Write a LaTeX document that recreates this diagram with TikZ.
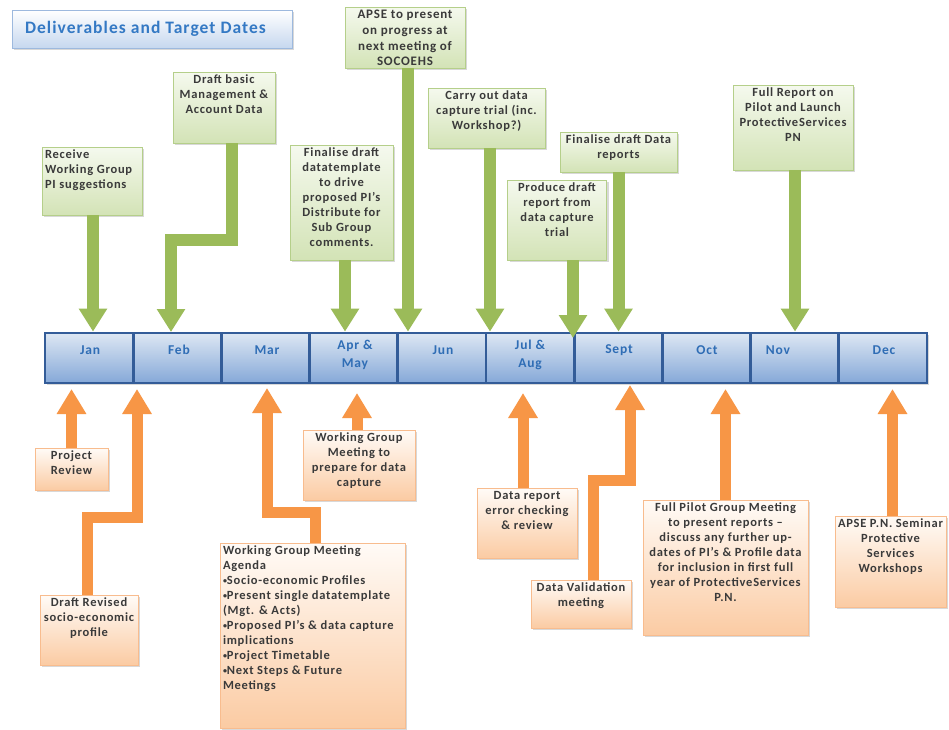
\documentclass[tikz,border=0pt]{standalone}
\usepackage{fontspec}
\setmainfont{Carlito}[LetterSpace=6]
\usetikzlibrary{arrows.meta,shadows}
\definecolor{gArrow}{HTML}{9BBB59}
\definecolor{gLine}{HTML}{B5CF8A}
\definecolor{gTop}{HTML}{F5F9EE}
\definecolor{gFill}{HTML}{D3E3B6}
\definecolor{oArrow}{HTML}{F79646}
\definecolor{oLine}{HTML}{F8BC8E}
\definecolor{oTop}{HTML}{FFFBF7}
\definecolor{oFill}{HTML}{FBCBA3}
\definecolor{bLine}{HTML}{335C98}
\definecolor{bTop}{HTML}{DDE7F3}
\definecolor{bBot}{HTML}{85A8D8}
\definecolor{bText}{HTML}{2F6DB5}
\definecolor{tLine}{HTML}{9DB9DE}
\definecolor{tBot}{HTML}{C6D8EF}
\definecolor{tText}{HTML}{3479C4}
\definecolor{txt}{HTML}{3A3A3A}
\newcommand{\bxt}[4]{\parbox[c][#2pt][t]{#1pt}{#3#4}}
\newcommand{\smbul}{\raisebox{1pt}{\fontsize{8}{8}\selectfont•}}
\tikzset{
  boxbase/.style={line width=1pt,inner sep=3pt,outer sep=0pt,
    font=\bfseries\fontsize{12.5}{15}\selectfont,text=txt,
    drop shadow={shadow xshift=2pt,shadow yshift=-2pt,opacity=0.3}},
  gbox/.style={boxbase,draw=gLine,top color=gTop,bottom color=gFill},
  obox/.style={boxbase,draw=oLine,top color=oTop,bottom color=oFill},
  garrow/.style={draw=gArrow,line width=12pt,line join=miter,
    -{Triangle[width=27pt,length=23pt]}},
  oarrow/.style={draw=oArrow,line width=11pt,line join=miter,
    -{Triangle[width=28pt,length=25pt]}},
  month/.style={draw=bLine,line width=2.8pt,top color=bTop,bottom color=bBot,
    minimum width=88.2pt,minimum height=50pt,inner sep=0pt,
    drop shadow={shadow xshift=1.5pt,shadow yshift=-2pt,opacity=0.3}},
  mlabel/.style={font=\bfseries\fontsize{13.5}{18}\selectfont,text=bText,align=center,inner sep=0pt},
  titlebox/.style={draw=tLine,line width=1pt,top color=white,bottom color=tBot,
    inner xsep=13pt,inner ysep=0pt,outer sep=0pt,
    font=\bfseries\fontsize{17.5}{19}\selectfont,text=tText,
    drop shadow={shadow xshift=2pt,shadow yshift=-2pt,opacity=0.3}}
}
\begin{document}
\begin{tikzpicture}[x=1pt,y=-1pt]
\useasboundingbox (0,0) rectangle (949,729);
\fill[white] (0,0) rectangle (949,729);

% title
\node[titlebox] (title) at (152,29) {\parbox[c][38pt][c]{254pt}{Deliverables and Target Dates}};

% timeline
\node[month] (m1)  at (89.1,358) {};
\node[month] (m2)  at (177.3,358) {};
\node[month] (m3)  at (265.5,358) {};
\node[month] (m4)  at (353.7,358) {};
\node[month] (m5)  at (441.9,358) {};
\node[month] (m6)  at (530.1,358) {};
\node[month] (m7)  at (618.3,358) {};
\node[month] (m8)  at (706.5,358) {};
\node[month] (m9)  at (794.7,358) {};
\node[month] (m10) at (882.9,358) {};
\node[mlabel] (l1)  at (90,350) {Jan};
\node[mlabel] (l2)  at (179,350) {Feb};
\node[mlabel] (l3)  at (267,350) {Mar};
\node[mlabel] (l4)  at (355,355) {Apr \&\\May};
\node[mlabel] (l5)  at (443,350) {Jun};
\node[mlabel] (l6)  at (530,355) {Jul \&\\Aug};
\node[mlabel] (l7)  at (619,350) {Sept};
\node[mlabel] (l8)  at (707,350) {Oct};
\node[mlabel] (l9)  at (778,350) {Nov};
\node[mlabel] (l10) at (884,350) {Dec};

% green boxes (above)
\node[gbox] (g1) at (92,181) {\bxt{94}{62}{\raggedright}{Receive\\Working Group\\PI suggestions}};
\node[gbox] (g2) at (224,107.5) {\bxt{96}{65}{\centering}{Draft basic\\Management \&\\Account Data}};
\node[gbox] (g3) at (341.5,202.5) {\bxt{97}{109}{\centering}{Finalise draft\\datatemplate\\to drive\\proposed PI’s\\Distribute for\\Sub Group\\comments.}};
\node[gbox,font=\bfseries\fontsize{13}{15.8}\selectfont] (g4) at (405,37.5) {\bxt{114}{55}{\centering}{APSE to present\\on progress at\\next meeting of\\SOCOEHS}};
\node[gbox] (g5) at (486.5,118) {\bxt{111}{54}{\centering}{Carry out data\\capture trial (inc.\\Workshop?)}};
\node[gbox] (g6) at (557,220) {\bxt{93}{74}{\centering}{Produce draft\\report from\\data capture\\trial}};
\node[gbox] (g7) at (618.5,152) {\bxt{111}{34}{\centering}{Finalise draft Data\\reports}};
\node[gbox] (g8) at (793,127.5) {\bxt{114}{79}{\centering}{Full Report on\\Pilot and Launch\\ProtectiveServices\\PN}};

% orange boxes (below)
\node[obox] (o1) at (71.5,469) {\bxt{67}{36}{\centering}{Project\\Review}};
\node[obox] (o2) at (89,630) {\bxt{92}{64}{\centering}{Draft Revised\\socio-economic\\profile}};
\node[obox] (o3) at (312.5,635.5) {\bxt{179}{179}{\raggedright}{Working Group Meeting\\Agenda\\\smbul Socio-economic Profiles\\\smbul Present single datatemplate\\(Mgt. \& Acts)\\\smbul Proposed PI’s \& data capture\\implications\\\smbul Project Timetable\\\smbul Next Steps \& Future\\Meetings}};
\node[obox] (o4) at (359,465) {\bxt{106}{64}{\centering}{Working Group\\Meeting to\\prepare for data\\capture}};
\node[obox] (o5) at (527,523) {\bxt{94}{64}{\centering}{Data report\\error checking\\\& review}};
\node[obox] (o6) at (581,604) {\bxt{94}{42}{\centering}{Data Validation\\meeting}};
\node[obox] (o7) at (725.5,567.5) {\bxt{159}{129}{\centering}{Full Pilot Group Meeting\\to present reports –\\discuss any further up-\\dates of PI’s \& Profile data\\for inclusion in first full\\year of ProtectiveServices\\P.N.}};
\node[obox] (o8) at (890.5,561.5) {\bxt{105}{85}{\centering}{APSE P.N. Seminar\\Protective\\Services\\Workshops}};

% tip coordinates
\coordinate (tipA) at (0,389);
\coordinate (tipB) at (0,393);
\coordinate (g2t) at (171,332);
\coordinate (g6t) at (573,338);
\coordinate (o2t) at (137,389);
\coordinate (o3t) at (267,388);
\coordinate (o6t) at (630,385);

% green arrows
\draw[garrow] ([xshift=1pt]g1.south) -- ([xshift=1pt]g1.south |- m1.north);
\draw[garrow] ([xshift=8pt]g2.south) -- ++(0,97) -| (g2t);
\draw[garrow] ([xshift=3.5pt]g3.south) -- ([xshift=3.5pt]g3.south |- m4.north);
\draw[garrow] ([xshift=3pt]g4.south) -- ([xshift=3pt]g4.south |- m5.north);
\draw[garrow] ([xshift=3.5pt]g5.south) -- ([xshift=3.5pt]g5.south |- m6.north);
\draw[garrow] ([xshift=16pt]g6.south) -- (g6t);
\draw[garrow] (g7.south) -- (g7.south |- m7.north);
\draw[garrow] ([xshift=2pt]g8.south) -- ([xshift=2pt]g8.south |- m9.north);

% orange arrows
\draw[oarrow] (o1.north) -- (o1.north |- tipA);
\draw[oarrow] ([xshift=-2pt]o2.north) -- ++(0,-78) -| (o2t);
\draw[oarrow] ([xshift=2.5pt]o3.north) -- ++(0,-31) -| (o3t);
\draw[oarrow] ([xshift=-2pt]o4.north) -- ([xshift=-2pt]o4.north |- tipB);
\draw[oarrow] ([xshift=-4pt]o5.north) -- ([xshift=-4pt]o5.north |- tipB);
\draw[oarrow] ([xshift=12pt]o6.north) -- ++(0,-100) -| (o6t);
\draw[oarrow] (o7.north) -- (o7.north |- tipA);
\draw[oarrow] ([xshift=2pt]o8.north) -- ([xshift=2pt]o8.north |- tipA);
\end{tikzpicture}
\end{document}
